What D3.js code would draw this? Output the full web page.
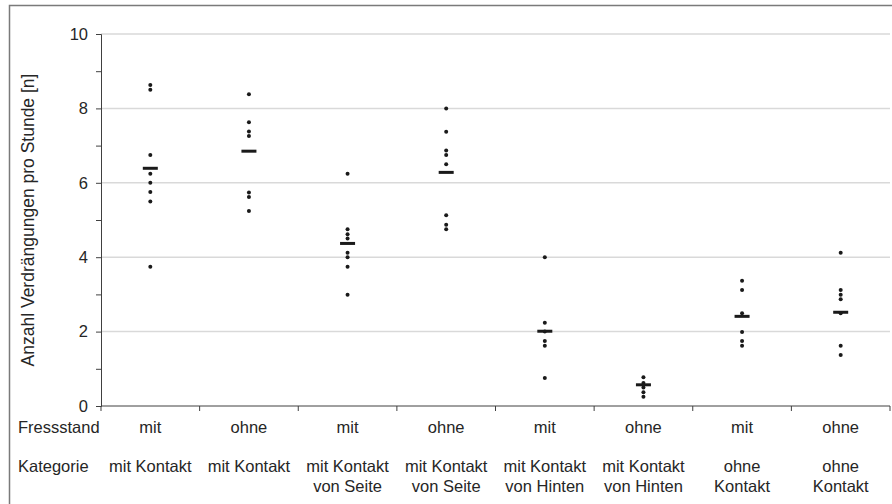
<!DOCTYPE html>
<meta charset="utf-8">
<body style="margin:0;background:#fff">
<svg width="892" height="504"></svg>
<script src="https://cdnjs.cloudflare.com/ajax/libs/d3/7.8.5/d3.min.js"></script>
<script>

var fressstand = ["mit", "ohne", "mit", "ohne", "mit", "ohne", "mit", "ohne"];
var kategorie = [
  ["mit Kontakt"], ["mit Kontakt"],
  ["mit Kontakt", "von Seite"], ["mit Kontakt", "von Seite"],
  ["mit Kontakt", "von Hinten"], ["mit Kontakt", "von Hinten"],
  ["ohne", "Kontakt"], ["ohne", "Kontakt"]
];
var werte = [
  [8.63, 8.5, 6.75, 6.24, 6.0, 5.75, 5.5, 3.74],
  [8.38, 7.63, 7.38, 7.26, 5.74, 5.62, 5.24],
  [6.24, 4.75, 4.62, 4.5, 4.12, 4.0, 3.74, 2.99],
  [8.0, 7.37, 6.87, 6.75, 6.5, 5.13, 4.87, 4.75],
  [4.0, 2.24, 2.0, 1.75, 1.62, 0.75],
  [0.77, 0.62, 0.5, 0.37, 0.25],
  [3.37, 3.12, 2.49, 1.99, 1.75, 1.62],
  [4.12, 3.12, 2.99, 2.87, 2.49, 1.62, 1.37]
];
var mittel = [6.39, 6.85, 4.37, 6.28, 2.01, 0.57, 2.41, 2.52];
var yTicks = [0, 2, 4, 6, 8, 10];
var yMinor = [1, 3, 5, 7, 9];

var svg = d3.select("svg");
var font = "Liberation Sans, Arial, sans-serif";
var pl = 101, pr = 890, pt = 34, pb = 406;

// rahmen
svg.append("rect")
  .attr("x", 9.5).attr("y", 5.5)
  .attr("width", 900).attr("height", 520)
  .attr("fill", "none").attr("stroke", "#7a7a7a").attr("stroke-width", 1.5);

var x = d3.scaleBand().domain(d3.range(8)).range([pl, pr]);
var y = d3.scaleLinear().domain([0, 10]).range([pb, pt]);

// gitter
svg.selectAll(".grid").data(yTicks.slice(1)).enter().append("line")
  .attr("x1", pl).attr("x2", pr)
  .attr("y1", d => y(d)).attr("y2", d => y(d))
  .attr("stroke", "#d9d9d9").attr("stroke-width", 1.5);

// y achse
var ya = svg.append("g").attr("transform", "translate(" + pl + ",0)")
  .call(d3.axisLeft(y).tickValues(yTicks).tickSize(5).tickPadding(8));
ya.append("g").call(d3.axisLeft(y).tickValues(yMinor).tickSize(5).tickFormat(""))
  .select(".domain").remove();
ya.selectAll("path, line").attr("stroke", "#404040");
ya.selectAll("text").attr("font-family", font).attr("font-size", 16.5).attr("fill", "#262626");

// x achse
var xa = svg.append("g").attr("transform", "translate(0," + pb + ")");
xa.append("line").attr("x1", pl).attr("x2", pr).attr("stroke", "#404040");
xa.selectAll(".tick").data(d3.range(9)).enter().append("line")
  .attr("x1", d => pl + d * x.step()).attr("x2", d => pl + d * x.step())
  .attr("y1", 0).attr("y2", 5).attr("stroke", "#404040");

svg.append("text")
  .attr("transform", "translate(34," + ((pt + pb) / 2) + ") rotate(-90)")
  .attr("text-anchor", "middle")
  .attr("font-family", font).attr("font-size", 17.5).attr("fill", "#262626")
  .text("Anzahl Verdrängungen pro Stunde [n]");

// punkte
werte.forEach(function(vals, i) {
  svg.selectAll(".p" + i).data(vals).enter().append("circle")
    .attr("cx", x(i) + x.bandwidth() / 2)
    .attr("cy", d => y(d))
    .attr("r", 2)
    .attr("fill", "#1a1a1a");
});

// mittelwerte
svg.selectAll(".mean").data(mittel).enter().append("rect")
  .attr("x", (d, i) => x(i) + x.bandwidth() / 2 - 7.5)
  .attr("y", d => y(d) - 1.5)
  .attr("width", 15).attr("height", 3)
  .attr("fill", "#1a1a1a");

// beschriftung unten
var lab = svg.append("g").attr("font-family", font).attr("font-size", 16.5).attr("fill", "#262626");
lab.append("text").attr("x", 18).attr("y", 433).text("Fressstand");
lab.append("text").attr("x", 18).attr("y", 472).text("Kategorie");
lab.selectAll(".fs").data(fressstand).enter().append("text")
  .attr("x", (d, i) => x(i) + x.bandwidth() / 2).attr("y", 433)
  .attr("text-anchor", "middle").text(d => d);
kategorie.forEach(function(lines, i) {
  lines.forEach(function(t, j) {
    lab.append("text")
      .attr("x", x(i) + x.bandwidth() / 2).attr("y", 472 + j * 20)
      .attr("text-anchor", "middle").text(t);
  });
});

</script>
</body>
